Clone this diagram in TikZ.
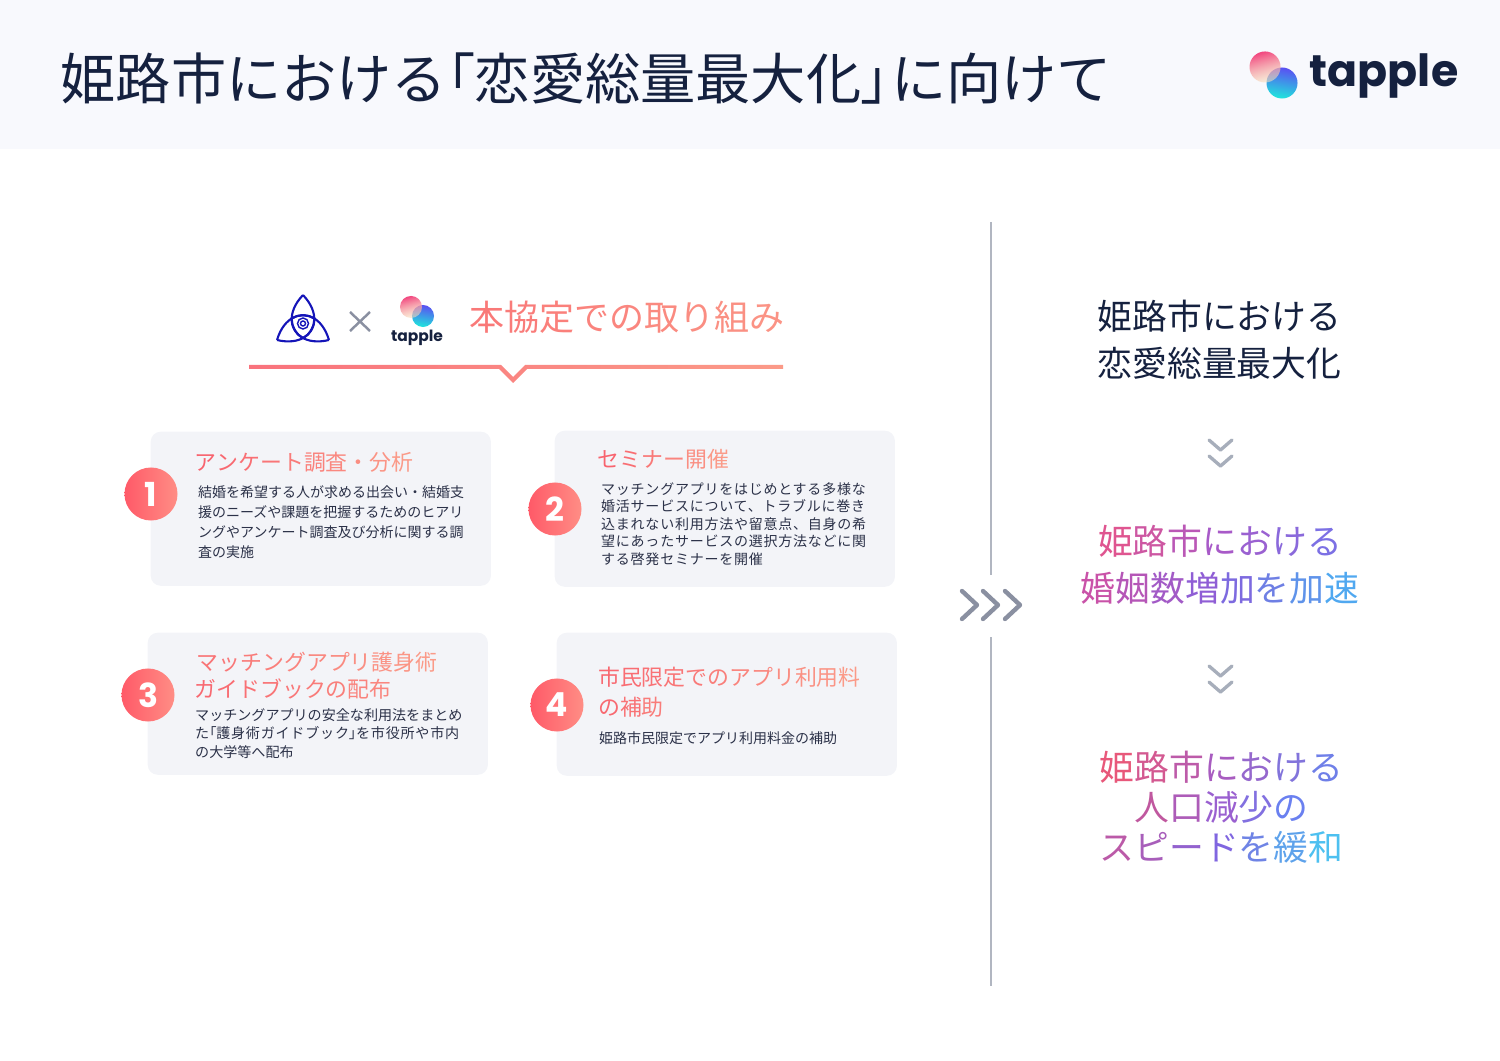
\documentclass[tikz,border=0pt]{standalone}
\usepackage{fontspec}
\usetikzlibrary{fadings}
\setmainfont{Noto Sans CJK JP}
\newfontfamily\cjkwide[LetterSpace=5.5]{Noto Sans CJK JP}
\newfontfamily\cjkprop[RawFeature=+palt]{Noto Sans CJK JP}
\newfontfamily\cjkpropwide[LetterSpace=5.5,RawFeature=+palt]{Noto Sans CJK JP}
\newfontfamily\logofont{Poppins}
\definecolor{navy}{HTML}{15213F}
\definecolor{bodyink}{HTML}{2B3148}
\definecolor{headband}{HTML}{F8F9FD}
\definecolor{cardgrey}{HTML}{F3F4F8}
\definecolor{rulegrey}{HTML}{B1B6C1}
\definecolor{chevgrey}{HTML}{A7AEBB}
\definecolor{chevdark}{HTML}{8A90A1}
\definecolor{coralA}{HTML}{F8636E}
\definecolor{coralB}{HTML}{FB9A88}
\definecolor{badgeA}{HTML}{FF5A68}
\definecolor{badgeB}{HTML}{FF8D85}
\definecolor{emblem}{HTML}{1414B8}
\definecolor{markpink}{HTML}{F2467F}
\definecolor{markcream}{HTML}{F8E6BE}
\definecolor{markblue}{HTML}{5A50F2}
\definecolor{markteal}{HTML}{1FE6DC}
\definecolor{goalAa}{HTML}{DF5590}
\definecolor{goalAb}{HTML}{A85AC8}
\definecolor{goalAc}{HTML}{7C70E4}
\definecolor{goalBa}{HTML}{C952A8}
\definecolor{goalBb}{HTML}{8560DC}
\definecolor{goalBc}{HTML}{50A8F0}
\definecolor{goalCa}{HTML}{E8587A}
\definecolor{goalCb}{HTML}{A85CC0}
\definecolor{goalCc}{HTML}{6F7FE8}
\definecolor{goalDa}{HTML}{C0589F}
\definecolor{goalDb}{HTML}{9A60D0}
\definecolor{goalDc}{HTML}{6A80F0}
\definecolor{goalEa}{HTML}{BB5AA8}
\definecolor{goalEb}{HTML}{8066E0}
\definecolor{goalEc}{HTML}{4DC0F0}
\tikzfading[name=markfade,top color=transparent!0,bottom color=transparent!45]
\makeatletter
\newcount\gradn
\newcount\gradk
\newcommand{\gradline}[3]{\gradn=0 \gradk=0
  \@tfor\ch:=#3\do{\advance\gradn by 1}%
  \@tfor\ch:=#3\do{\edef\pct{\the\numexpr100*\gradk/(\gradn-1)\relax}%
    \textcolor{#2!\pct!#1}{\ch}\advance\gradk by 1}}
\newcommand{\gradtri}[4]{\gradn=0 \gradk=0
  \@tfor\ch:=#4\do{\advance\gradn by 1}%
  \@tfor\ch:=#4\do{\edef\pct{\the\numexpr200*\gradk/(\gradn-1)\relax}%
    \ifnum\pct>100 \edef\pct{\the\numexpr\pct-100\relax}\textcolor{#3!\pct!#2}{\ch}%
    \else\textcolor{#2!\pct!#1}{\ch}\fi\advance\gradk by 1}}
\makeatother
\tikzset{
  card/.style={fill=cardgrey,rounded corners=0.1cm,minimum width=3.4cm,anchor=north west},
  badge/.style={circle,minimum size=0.53cm,inner sep=0pt,left color=badgeA,right color=badgeB,text=white,font=\logofont\bfseries\fontsize{9.4}{9.4}\selectfont},
  cardhead/.style={anchor=west,inner sep=0pt,align=left,font=\fontsize{6.22}{7.7}\selectfont},
  cardbody/.style={anchor=west,inner sep=0pt,align=left,text=bodyink,font=\fontsize{3.98}{5.69}\selectfont},
  bigline/.style={inner sep=0pt,align=center,font=\fontsize{9.9}{13.37}\selectfont},
  chev/.style={line width=0.95pt,line cap=round,line join=round,chevgrey},
  markpinkdisc/.style={top color=markpink,bottom color=markcream,shading angle=15,path fading=markfade,fading angle=15},
  markbluedisc/.style={top color=markblue,bottom color=markteal,shading angle=-10}
}
\begin{document}
\begin{tikzpicture}[x=0.01cm,y=-0.01cm]
  \useasboundingbox (0,0) rectangle (1500,1061);
  % header
  \fill[headband] (0,0) rectangle (1500,149);
  \node[anchor=west,inner sep=0pt,text=navy,font=\fontsize{15.7}{15.7}\selectfont] (title) at (60,79)
    {姫路市における{\cjkprop「}恋愛総量最大化{\cjkprop」}\kern0.6pt に向けて};
  \shade[markbluedisc] (1282,83) circle[radius=0.155cm];
  \shade[markpinkdisc] (1265,67) circle[radius=0.155cm];
  \node[anchor=west,inner sep=0pt,text=navy,font=\logofont\bfseries\fontsize{12.6}{12.6}\selectfont] (toplogo) at (1309,76) {tapple};

  % left heading
  \foreach \a in {0,120,240}{
    \draw[emblem,line width=0.6pt,shift={(303,325)},rotate=\a] (0,-30) .. controls (-17,-12) and (-13,6) .. (0,13) .. controls (13,6) and (17,-12) .. (0,-30);
  }
  \draw[emblem,line width=0.4pt] (303,323.5) circle[radius=0.055cm] (303,323.5) circle[radius=0.025cm];
  \draw[chevdark,line width=0.7pt] (350,312) -- (370,331) (370,312) -- (350,331);
  \shade[markbluedisc] (423,316) circle[radius=0.11cm];
  \shade[markpinkdisc] (411,307) circle[radius=0.11cm];
  \node[inner sep=0pt,text=navy,font=\logofont\bfseries\fontsize{4.4}{4.4}\selectfont] (smalllogo) at (417,338) {tapple};
  \node[anchor=west,inner sep=0pt,font=\fontsize{9.96}{9.96}\selectfont] (heading) at (469,317) {\gradline{coralA!60!coralB}{coralB!80!coralA}{本協定での取り組み}};
  \shade[left color=coralA!90!white,right color=coralB] (249,365) -- (501,365) -- (513,377) -- (525,365) -- (783,365) -- (783,369) -- (527,369) -- (513,383) -- (499,369) -- (249,369) -- cycle;

  % cards
  \node[card,minimum height=1.54cm] (cardA) at (150,431) {};
  \node[card,minimum height=1.56cm] (cardB) at (554,430) {};
  \node[card,minimum height=1.42cm] (cardC) at (147,632) {};
  \node[card,minimum height=1.43cm] (cardD) at (556,632) {};
  \node[badge] (badgeOne) at (151,494) {1};
  \node[badge] (badgeTwo) at (555,509) {2};
  \node[badge] (badgeThree) at (148,695) {3};
  \node[badge] (badgeFour) at (557,705) {4};

  \node[cardhead] (headA) at (194,462) {\gradline{coralA}{coralB}{アンケート調査・分析}};
  \node[cardbody] (bodyA) at (197.5,522) {結婚を希望する人が求める出会い・結婚支\\援のニーズや課題を把握するためのヒアリ\\ングやアンケート調査及び分析に関する調\\査の実施};
  \node[cardhead] (headB) at (597,459) {\gradline{coralA}{coralB}{セミナー開催}};
  \node[cardbody,font=\cjkwide\fontsize{3.98}{4.98}\selectfont] (bodyB) at (600.5,524) {マッチングアプリをはじめとする多様な\\婚活サービスについて、トラブルに巻き\\込まれない利用方法や留意点、自身の希\\望にあったサービスの選択方法などに関\\する啓発セミナーを開催};
  \node[cardhead] (headC) at (194,675.5) {\hspace{0.6pt}\gradline{coralA!70!coralB}{coralB}{マッチングアプリ護身術}\\\gradline{coralA!90!coralB}{coralA!40!coralB}{ガイドブックの配布}};
  \node[cardbody,font=\fontsize{4.0}{5.26}\selectfont] (bodyC) at (194.5,733.5) {マッチングアプリの安全な利用法をまとめ\\{\cjkwide た}{\cjkpropwide 「}{\cjkwide 護身術ガイドブック}{\cjkpropwide 」}{\cjkwide を市役所や市内}\\の大学等へ配布};
  \node[cardhead,font=\fontsize{6.22}{8.54}\selectfont] (headD) at (597.5,692) {\gradline{coralA!90!coralB}{coralB}{市民限定でのアプリ利用料}\\\gradline{coralA!90!coralB}{coralA!60!coralB}{の補助}};
  \node[cardbody] (bodyD) at (598.5,738) {姫路市民限定でアプリ利用料金の補助};

  % divider
  \coordinate (divtop) at (991,222);
  \coordinate (divgapa) at (991,575);
  \coordinate (divgapb) at (991,637);
  \coordinate (divbot) at (991,986);
  \draw[rulegrey,line width=0.57pt] (divtop) -- (divgapa) (divgapb) -- (divbot);
  \foreach \x in {962,983,1005}{
    \draw[chevdark,line width=1.25pt,line cap=round,line join=round] (\x,591) -- (\x+15,605) -- (\x,619);
  }

  % right column
  \node[bigline,text=navy] (goalA) at (1219.5,339.5) {姫路市における\\恋愛総量最大化};
  \foreach \y in {453,679}{
    \draw[chev] (1209,\y-13) -- (1220.5,\y-3) -- (1232,\y-13);
    \draw[chev] (1209,\y+3) -- (1220.5,\y+13) -- (1232,\y+3);
  }
  \node[bigline] (goalB) at (1220,564.5) {\gradtri{goalAa}{goalAb}{goalAc}{姫路市における}\\\gradtri{goalBa}{goalBb}{goalBc}{婚姻数増加を加速}};
  \node[bigline,font=\fontsize{9.9}{11.38}\selectfont] (goalC) at (1221.5,807) {\gradtri{goalCa}{goalCb}{goalCc}{姫路市における}\\\gradtri{goalDa}{goalDb}{goalDc}{人口減少の}\\\gradtri{goalEa}{goalEb}{goalEc}{スピードを緩和}};
\end{tikzpicture}
\end{document}
